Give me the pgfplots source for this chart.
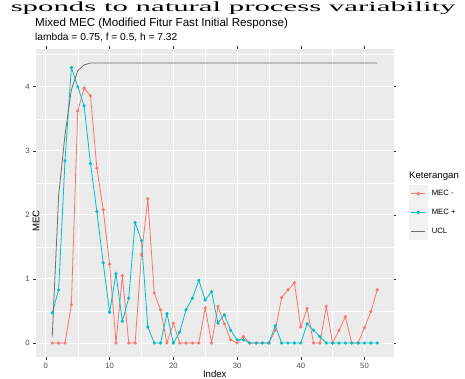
\documentclass[border=0pt]{standalone}
\usepackage{pgfplots}
\pgfplotsset{compat=1.18}
\usepackage{pgfplotstable}
\usepackage{fontspec}
\setmainfont{Liberation Sans}
\newfontfamily\seriffont{Liberation Serif}
\definecolor{cred}{HTML}{F8766D}
\definecolor{cteal}{HTML}{00BFC4}
\definecolor{cucl}{HTML}{6E6E6E}
\definecolor{panel}{HTML}{EBEBEB}
\definecolor{keybg}{HTML}{F2F2F2}
\definecolor{tickc}{HTML}{4D4D4D}
\definecolor{tickln}{HTML}{333333}

\pgfplotstableread{
x mm mp
1 0 0.47
2 0 0.83
3 0 2.84
4 0.6 4.3
5 3.62 4.0
6 3.98 3.7
7 3.86 2.8
8 2.73 2.05
9 2.08 1.25
10 1.23 0.48
11 0 1.08
12 1.05 0.34
13 0 0.70
14 0 1.88
15 1.38 1.6
16 2.25 0.25
17 0.78 0
18 0.52 0
19 0 0.46
20 0.31 0
21 0 0.17
22 0 0.52
23 0 0.70
24 0 0.98
25 0.55 0.67
26 0 0.80
27 0.57 0.31
28 0.3 0.44
29 0.05 0.2
30 0 0.05
31 0.1 0.05
32 0 0
33 0 0
34 0 0
35 0 0
36 0.2 0.27
37 0.71 0
38 0.83 0
39 0.94 0
40 0.25 0
41 0.54 0.3
42 0 0.2
43 0 0.1
44 0.57 0
45 0 0
46 0.2 0
47 0.41 0
48 0 0
49 0 0
50 0.24 0
51 0.49 0
52 0.83 0
}\mecdata

\pgfplotstableread{
x ucl
1 0.1
2 2.3
3 3.25
4 3.95
5 4.25
6 4.34
7 4.37
10 4.37
20 4.37
30 4.37
40 4.37
52 4.37
}\ucldata

\begin{document}
\begin{tikzpicture}
\begin{axis}[
  at={(36pt,-357pt)}, anchor=south west,
  scale only axis, width=357.5pt, height=308pt,
  xmin=-1.55, xmax=54.55, ymin=-0.2185, ymax=4.5885,
  axis background/.style={fill=panel},
  axis line style={draw=none},
  grid=both,
  major grid style={white, line width=0.9pt},
  minor grid style={white, line width=0.45pt},
  xtick={0,10,...,50}, minor xtick={5,15,...,55},
  ytick={0,1,2,3,4}, minor ytick={0.5,1.5,...,4.5},
  tick align=outside, major tick length=2.75pt, minor tick length=0pt,
  tick style={tickln, line width=0.5pt},
  /pgf/number format/assume math mode=true,
  ticklabel style={font=\fontsize{7.7}{9}\selectfont, text=tickc},
  xlabel={Index}, ylabel={MEC},
  label style={font=\fontsize{9.6}{11}\selectfont},
  xlabel style={at={(axis description cs:0.5,0)}, anchor=north, inner sep=0pt, yshift=-13pt},
  ylabel style={at={(axis description cs:0,0.5)}, anchor=center, inner sep=0pt, xshift=-18pt},
  legend style={at={(1.0434,0.5606)}, anchor=north west, draw=none, fill=none,
    inner sep=0pt, row sep=0.7pt, column sep=4.5pt,
    nodes={inner sep=0pt, anchor=west},
    font=\fontsize{7.7}{9}\selectfont},
  legend cell align=left,
]
\addplot[cred, line width=0.8pt,
  legend image code/.code={\fill[keybg] (0pt,-8.65pt) rectangle (17.3pt,8.65pt);
    \draw[cred, line width=0.8pt] (1.7pt,0pt) -- (15.6pt,0pt);
    \fill[cred] (8.65pt,0pt) circle (1.4pt);}]
  table[x=x, y=mm] {\mecdata};
\addlegendentry{MEC -}
\addplot[cteal, line width=0.8pt,
  legend image code/.code={\fill[keybg] (0pt,-8.65pt) rectangle (17.3pt,8.65pt);
    \draw[cteal, line width=0.8pt] (1.7pt,0pt) -- (15.6pt,0pt);
    \fill[cteal] (8.65pt,0pt) circle (1.4pt);}]
  table[x=x, y=mp] {\mecdata};
\addlegendentry{MEC +}
\addplot[cucl, line width=0.8pt,
  legend image code/.code={\fill[keybg] (0pt,-8.65pt) rectangle (17.3pt,8.65pt);
    \draw[cucl, line width=0.8pt] (1.7pt,0pt) -- (15.6pt,0pt);}]
  table[x=x, y=ucl] {\ucldata};
\addlegendentry{UCL}
\addplot[only marks, mark=*, mark size=1.4pt, cred, forget plot]
  table[x=x, y=mm] {\mecdata};
\addplot[only marks, mark=*, mark size=1.4pt, cteal, forget plot]
  table[x=x, y=mp] {\mecdata};
\end{axis}
% titles
\node[anchor=base west, inner sep=0pt, font=\fontsize{11.6}{13}\selectfont] at (35pt,-26.5pt)
  {Mixed MEC (Modified Fitur Fast Initial Response)};
\node[anchor=base west, inner sep=0pt, font=\fontsize{10.2}{12}\selectfont] at (35pt,-40pt)
  {lambda = 0.75, f = 0.5, h = 7.32};
\node[anchor=base west, inner sep=0pt, font=\fontsize{9.6}{11}\selectfont] at (409pt,-178.5pt)
  {Keterangan};
% body text of the page above the figure
\node[anchor=base east, inner sep=0pt, xscale=2.2, font=\seriffont\fontsize{14}{16}\selectfont] at (456pt,-11pt)
  {sponds to natural process variability};
\pgfresetboundingbox
\path[use as bounding box] (0pt,0pt) rectangle (465pt,-378pt);
\end{tikzpicture}
\end{document}
